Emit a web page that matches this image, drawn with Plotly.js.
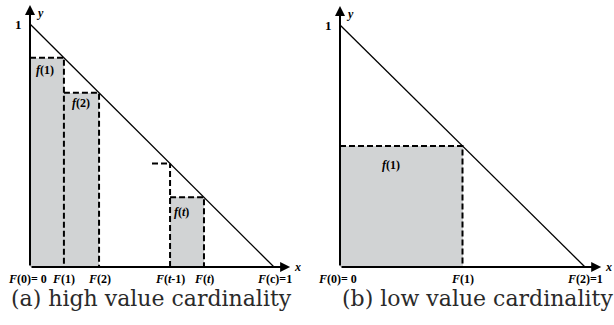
<!DOCTYPE html>
<html><head><meta charset="utf-8">
<script src="https://cdn.plot.ly/plotly-3.0.1.min.js"></script>
<style>html,body{margin:0;padding:0;background:#fff}</style>
</head><body><div id="chart" style="width:614px;height:325px"></div>
<script>
// Panel (a): cumulative positions F(i) along x
const leftF = [0, 0.139, 0.283, 0.574, 0.713, 1];
const leftTickLabels = ['<b><i>F</i>(0)= 0</b>', '<b><i>F</i>(1)</b>', '<b><i>F</i>(2)</b>', '<b><i>F</i>(<i>t</i>-1)</b>', '<b><i>F</i>(<i>t</i>)</b>', '<b><i>F</i>(c)=1</b>'];
const leftBarStart = [0, 0.139, 0.574];
const leftBarEnd = [0.139, 0.283, 0.713];
const leftBarHeight = [0.861, 0.717, 0.287];
const leftBarLabels = ['<b><i>f</i>(1)</b>', '<b><i>f</i>(2)</b>', '<b><i>f</i>(<i>t</i>)</b>'];
// Panel (b)
const rightF = [0, 0.5, 1];
const rightTickLabels = ['<b><i>F</i>(0)= 0</b>', '<b><i>F</i>(1)</b>', '<b><i>F</i>(2)=1</b>'];
const rightBarStart = [0];
const rightBarEnd = [0.5];
const rightBarHeight = [0.5];
const rightBarLabels = ['<b><i>f</i>(1)</b>'];
const captions = ['(a) high value cardinality', '(b) low value cardinality'];

const GRAY = 'rgb(209,211,212)';
const DASH = '6px,3px';
const lblFont = {family: 'Liberation Serif, Times New Roman, serif', size: 12, color: '#000'};

const traces = [];
const annotations = [];

function panel(F, ticks, bs, be, bh, blabels, xa, ya, labelPos, extraDash, caption, capX) {
  const xr = xa;
  const yr = ya;
  // gray bars
  traces.push({type: 'bar', x: bs.map((s, i) => (s + be[i]) / 2), y: bh,
    width: bs.map((s, i) => be[i] - s), base: 0, marker: {color: GRAY, line: {width: 0}},
    xaxis: xr, yaxis: yr, hoverinfo: 'skip', showlegend: false});
  // diagonal
  traces.push({type: 'scatter', mode: 'lines', x: [F[0], F[F.length - 1]], y: [1, 0],
    line: {color: '#000', width: 1.3}, xaxis: xr, yaxis: yr, showlegend: false, hoverinfo: 'skip'});
  // dashed outlines
  bs.forEach((s, i) => {
    traces.push({type: 'scatter', mode: 'lines', x: [s, be[i], be[i]], y: [bh[i], bh[i], 0],
      line: {color: '#000', width: 2, dash: DASH}, xaxis: xr, yaxis: yr, showlegend: false, hoverinfo: 'skip'});
  });
  extraDash.forEach(d => {
    traces.push({type: 'scatter', mode: 'lines', x: d.x, y: d.y,
      line: {color: '#000', width: 2, dash: DASH}, xaxis: xr, yaxis: yr, showlegend: false, hoverinfo: 'skip'});
  });
  // axes with arrows
  annotations.push({xref: xr, yref: yr, axref: xr, ayref: yr, x: 0, y: 1.078, ax: 0, ay: 0,
    showarrow: true, arrowhead: 2, arrowsize: 1, arrowwidth: 2, arrowcolor: '#000', text: ''});
  annotations.push({xref: xr, yref: yr, axref: xr, ayref: yr, x: 1.066, y: 0, ax: 0, ay: 0,
    showarrow: true, arrowhead: 2, arrowsize: 1, arrowwidth: 2, arrowcolor: '#000', text: ''});
  // axis labels
  annotations.push({xref: xr, yref: yr, x: 0, y: 1.045, xanchor: 'left', xshift: 4, yanchor: 'middle',
    showarrow: false, text: '<b><i>y</i></b>', font: lblFont});
  annotations.push({xref: xr, yref: yr, x: 1.066, y: 0, xanchor: 'left', xshift: 3, yanchor: 'middle',
    showarrow: false, borderpad: 0, text: '<b><i>x</i></b>', font: lblFont});
  annotations.push({xref: xr, yref: yr, x: 0, y: 1, xanchor: 'right', xshift: -6, yanchor: 'middle',
    showarrow: false, text: '<b>1</b>', font: {family: lblFont.family, size: 13, color: '#000'}});
  // tick labels
  F.forEach((f, i) => {
    annotations.push({xref: xr, yref: yr, x: f, y: 0, yanchor: 'top', yshift: -4, borderpad: 0,
      xanchor: i === 0 ? 'right' : 'center', xshift: i === 0 ? 18 : 0,
      showarrow: false, text: ticks[i], font: lblFont});
  });
  // bar labels
  blabels.forEach((t, i) => {
    annotations.push({xref: xr, yref: yr, x: labelPos[i][0], y: labelPos[i][1],
      showarrow: false, text: t, font: lblFont});
  });
  annotations.push({xref: 'paper', yref: 'paper', x: capX, y: 1 - 298 / 325,
    yanchor: 'middle', xanchor: 'center', borderpad: 0,
    showarrow: false, text: caption, font: {family: 'DejaVu Serif, serif', size: 22, color: '#2a2a2a'}});
}

panel(leftF, leftTickLabels, leftBarStart, leftBarEnd, leftBarHeight, leftBarLabels, 'x', 'y',
  [[0.062, 0.81], [0.21, 0.675], [0.62, 0.225]],
  [{x: [leftF[3], leftF[3]], y: [0, 1 - leftF[3]]}, {x: [leftF[3] - 0.074, leftF[3]], y: [1 - leftF[3], 1 - leftF[3]]}],
  captions[0], 151 / 614);
panel(rightF, rightTickLabels, rightBarStart, rightBarEnd, rightBarHeight, rightBarLabels, 'x2', 'y2',
  [[0.21, 0.42]], [], captions[1], 477 / 614);

const ax = (range, domain) => ({range: range, domain: domain, visible: false, fixedrange: true});
const layout = {
  width: 614, height: 325, margin: {l: 0, r: 0, t: 0, b: 0},
  paper_bgcolor: '#fff', plot_bgcolor: 'rgba(0,0,0,0)', showlegend: false, bargap: 0,
  xaxis: ax([-30 / 244, 275 / 244], [0, 305 / 614]),
  yaxis: ax([-58 / 243, 267 / 243], [0, 1]),
  xaxis2: Object.assign(ax([-35 / 245, 274 / 245], [305 / 614, 1]), {anchor: 'y2'}),
  yaxis2: Object.assign(ax([-58 / 242, 267 / 242], [0, 1]), {anchor: 'x2'}),
  annotations: annotations
};
Plotly.newPlot('chart', traces, layout, {displayModeBar: false, staticPlot: true});
</script></body></html>
